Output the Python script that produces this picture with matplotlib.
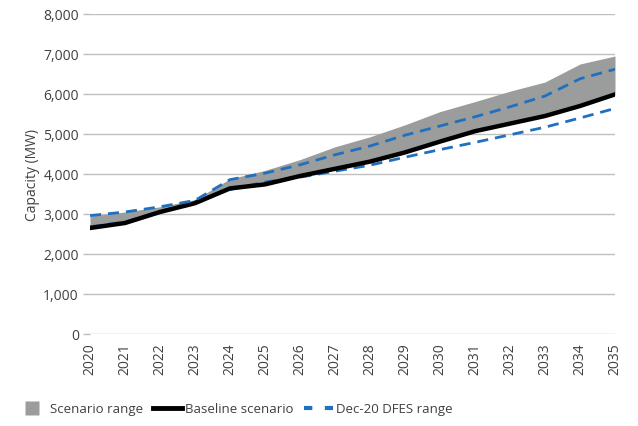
import matplotlib.pyplot as plt
from matplotlib.lines import Line2D

plt.rcParams['font.family'] = ['Open Sans', 'DejaVu Sans']

years = list(range(2020, 2036))
baseline = [2650, 2775, 3050, 3270, 3640, 3740, 3950, 4130, 4310, 4540, 4810, 5070, 5260, 5450, 5700, 5990]
range_top = [2950, 3050, 3180, 3360, 3880, 4090, 4360, 4680, 4930, 5230, 5560, 5810, 6070, 6300, 6750, 6950]
range_bottom = [2620, 2750, 3030, 3250, 3620, 3720, 3930, 4110, 4290, 4520, 4790, 5050, 5240, 5430, 5680, 5970]
dfes_high = [2960, 3050, 3180, 3340, 3860, 4020, 4230, 4480, 4700, 4970, 5200, 5430, 5680, 5950, 6380, 6620]
dfes_low = [2680, 2800, 3060, 3310, 3610, 3800, 3920, 4070, 4220, 4420, 4610, 4790, 4980, 5170, 5400, 5640]

text_col = '#404040'
blue = '#2070c0'
grey = '#9b9c9c'

fig = plt.figure(figsize=(6.38, 4.27), dpi=100)
ax = fig.add_axes([90 / 638, 1 - 335 / 427, 525 / 638, 320 / 427])

ax.fill_between(years, range_bottom, range_top, color=grey, lw=0, zorder=2)
ax.plot(years, dfes_low, color=blue, lw=2, dashes=(4, 2.5), zorder=3)
ax.plot(years, baseline, color='black', lw=3.2, solid_capstyle='round', zorder=4)
ax.plot(years, dfes_high, color=blue, lw=2, dashes=(4, 2.5), zorder=5)

ax.set_xlim(2020, 2035)
ax.set_ylim(0, 8000)
ax.set_xticks(years)
ax.set_xticklabels([str(y) for y in years], rotation=90, fontsize=10, color=text_col)
ax.set_yticks(range(0, 8001, 1000))
ax.set_yticklabels([f'{v:,}' for v in range(0, 8001, 1000)], fontsize=10, color=text_col)
ax.tick_params(axis='x', length=0, pad=6)
ax.tick_params(axis='y', length=5, color='#bfbfbf', width=1, pad=3)
ax.grid(axis='y', color='#bfbfbf', lw=1, zorder=0)
ax.set_axisbelow(True)
for s in ax.spines.values():
    s.set_visible(False)
ax.set_ylabel('Capacity (MW)', fontsize=10, color=text_col, labelpad=2)

# legend
handles = [
    Line2D([0], [0], marker='s', color='none', markerfacecolor=grey, markeredgecolor='none', markersize=10),
    Line2D([0], [0], color='black', lw=3.5),
    Line2D([0], [0], color=blue, lw=3, dashes=(2, 3)),
]
labels = ['Scenario range', 'Baseline scenario', 'Dec-20 DFES range']
leg = fig.legend(handles, labels, loc='center left', bbox_to_anchor=(6 / 638, 17 / 427), ncol=3,
                 frameon=False, fontsize=9.5, handlelength=2.2, handletextpad=0.2,
                 columnspacing=0.8)
for t in leg.get_texts():
    t.set_color(text_col)

fig.savefig('out.png', dpi=100)
